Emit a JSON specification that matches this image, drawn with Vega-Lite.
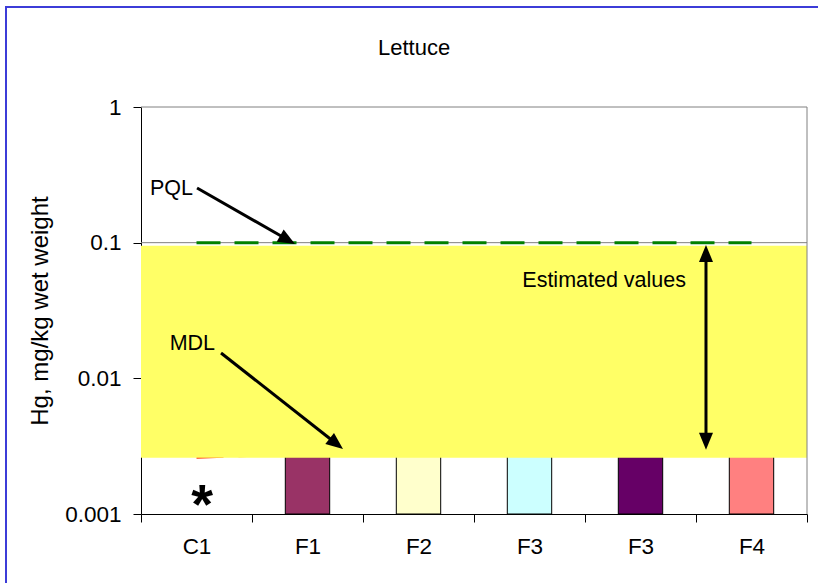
{
  "$schema": "https://vega.github.io/schema/vega-lite/v6.json",
  "width": 852,
  "height": 616,
  "autosize": {"type": "none"},
  "padding": {"left": 6, "top": 7, "right": -40, "bottom": -40},
  "background": "white",
  "config": {
    "font": "Liberation Sans",
    "view": {"stroke": "#3c3cd8", "strokeWidth": 2},
    "axis": {
      "labelFont": "Liberation Sans",
      "titleFont": "Liberation Sans",
      "labelColor": "black",
      "titleColor": "black",
      "domainColor": "black",
      "tickColor": "black",
      "labelFontSize": 22.5,
      "titleFontSize": 24,
      "titleFontWeight": "normal",
      "grid": false
    }
  },
  "title": {
    "text": "Lettuce",
    "anchor": "start",
    "frame": "group",
    "dx": 372,
    "offset": -53,
    "font": "Liberation Sans",
    "fontSize": 22,
    "fontWeight": "normal",
    "color": "black"
  },
  "datasets": {
    "samples": [
      {"key": "C1", "value": null, "pql": 0.1, "mdl": 0.00262},
      {"key": "F1", "value": 0.004, "pql": 0.1, "mdl": 0.0028},
      {"key": "F2", "value": 0.004, "pql": 0.1, "mdl": 0.0028},
      {"key": "F3 (1)", "value": 0.004, "pql": 0.1, "mdl": 0.0028},
      {"key": "F3 (2)", "value": 0.004, "pql": 0.1, "mdl": 0.0028},
      {"key": "F4", "value": 0.004, "pql": 0.1, "mdl": 0.0028}
    ],
    "arrows": [
      {"name": "PQL", "from_u": 0.505, "from_v": 0.253, "to_u": 1.309, "to_v": 0.1064},
      {"name": "MDL", "from_u": 0.721, "from_v": 0.01538, "to_u": 1.749, "to_v": 0.00335},
      {"name": "Estimated values", "from_u": 5.09, "from_v": 0.0811, "to_u": 5.09, "to_v": 0.00351}
    ],
    "labels": [
      {"text": "PQL", "u": 0.468, "v": 0.2244},
      {"text": "MDL", "u": 0.667, "v": 0.01618},
      {"text": "Estimated values", "u": 4.91, "v": 0.0471}
    ]
  },
  "resolve": {"scale": {"x": "independent"}, "axis": {"x": "independent", "y": "independent"}},
  "layer": [
    {
      "data": {"name": "samples"},
      "mark": {"type": "bar", "width": {"band": 0.4}, "stroke": "black", "strokeWidth": 1},
      "encoding": {
        "x": {
          "field": "key", "type": "nominal", "sort": null,
          "scale": {"domain": ["C1", "F1", "F2", "F3 (1)", "F3 (2)", "F4"], "range": [135, 801], "paddingInner": 0, "paddingOuter": 0},
          "axis": {"title": null, "orient": "bottom", "offset": -109, "tickBand": "extent", "labelExpr": "split(datum.label, ' ')[0]", "labelAngle": 0, "tickSize": 8, "labelPadding": 13}
        },
        "y": {
          "field": "value", "type": "quantitative",
          "scale": {"type": "log", "domain": [0.001, 1], "range": [507, 100], "nice": false},
          "axis": {"title": "Hg, mg/kg wet weight", "offset": -135, "values": [0.001, 0.01, 0.1, 1], "format": "~g", "tickSize": 8, "labelPadding": 12, "titlePadding": 12}
        },
        "y2": {"datum": 0.001},
        "color": {
          "field": "key", "type": "nominal",
          "scale": {"domain": ["C1", "F1", "F2", "F3 (1)", "F3 (2)", "F4"], "range": ["#ffffff", "#993366", "#ffffcc", "#ccffff", "#660066", "#ff8080"]},
          "legend": null
        }
      }
    },
    {
      "data": {"name": "samples"},
      "mark": {"type": "line", "color": "#ff3300", "strokeWidth": 3, "strokeDash": [27, 15]},
      "encoding": {
        "x": {
          "field": "key", "type": "nominal", "sort": null,
          "scale": {"domain": ["C1", "F1", "F2", "F3 (1)", "F3 (2)", "F4"], "range": [135, 801], "paddingInner": 0, "paddingOuter": 0},
          "axis": null
        },
        "y": {"field": "mdl", "type": "quantitative", "axis": null}
      }
    },
    {
      "data": {"values": [{}]},
      "layer": [
        {
          "mark": {"type": "rect", "color": "#ffff66"},
          "encoding": {
            "x": {"datum": 0, "type": "quantitative", "scale": {"domain": [0, 6], "range": [135, 801], "nice": false, "zero": false}, "axis": null},
            "x2": {"datum": 6},
            "y": {"datum": 0.0026, "type": "quantitative", "axis": null},
            "y2": {"datum": 0.095}
          }
        },
        {
          "mark": {"type": "rule", "color": "#808080", "strokeWidth": 1},
          "encoding": {
            "x": {"datum": 0, "type": "quantitative", "scale": {"domain": [0, 6], "range": [135, 801], "nice": false, "zero": false}, "axis": null},
            "x2": {"datum": 6},
            "y": {"datum": 0.1, "type": "quantitative", "axis": null}
          }
        },
        {
          "mark": {"type": "rule", "color": "#808080", "strokeWidth": 1},
          "encoding": {
            "x": {"datum": 0, "type": "quantitative", "scale": {"domain": [0, 6], "range": [135, 801], "nice": false, "zero": false}, "axis": null},
            "x2": {"datum": 6},
            "y": {"datum": 1, "type": "quantitative", "axis": null}
          }
        },
        {
          "mark": {"type": "rule", "color": "#808080", "strokeWidth": 1},
          "encoding": {
            "x": {"datum": 6, "type": "quantitative", "scale": {"domain": [0, 6], "range": [135, 801], "nice": false, "zero": false}, "axis": null},
            "y": {"datum": 0.001, "type": "quantitative", "axis": null},
            "y2": {"datum": 1}
          }
        }
      ]
    },
    {
      "data": {"name": "samples"},
      "mark": {"type": "line", "color": "#008000", "strokeWidth": 3, "strokeDash": [24, 14]},
      "encoding": {
        "x": {
          "field": "key", "type": "nominal", "sort": null,
          "scale": {"domain": ["C1", "F1", "F2", "F3 (1)", "F3 (2)", "F4"], "range": [135, 801], "paddingInner": 0, "paddingOuter": 0},
          "axis": null
        },
        "y": {"field": "pql", "type": "quantitative", "axis": null}
      }
    },
    {
      "layer": [
        {
          "data": {"name": "arrows"},
          "mark": {"type": "rule", "color": "black", "strokeWidth": 3},
          "encoding": {
            "x": {"field": "from_u", "type": "quantitative", "scale": {"domain": [0, 6], "range": [135, 801], "nice": false, "zero": false}, "axis": null},
            "x2": {"field": "to_u"},
            "y": {"field": "from_v", "type": "quantitative", "axis": null},
            "y2": {"field": "to_v"}
          }
        },
        {
          "data": {"values": [{}]},
          "mark": {"type": "point", "shape": "M0,0L-0.7,1.7L0.7,1.7Z", "filled": true, "color": "black", "opacity": 1, "size": 400, "angle": 119.7},
          "encoding": {
            "x": {"datum": 1.387, "type": "quantitative", "scale": {"domain": [0, 6], "range": [135, 801], "nice": false, "zero": false}, "axis": null},
            "y": {"datum": 0.0977, "type": "quantitative", "axis": null}
          }
        },
        {
          "data": {"values": [{}]},
          "mark": {"type": "point", "shape": "M0,0L-0.7,1.7L0.7,1.7Z", "filled": true, "color": "black", "opacity": 1, "size": 400, "angle": 128.2},
          "encoding": {
            "x": {"datum": 1.82, "type": "quantitative", "scale": {"domain": [0, 6], "range": [135, 801], "nice": false, "zero": false}, "axis": null},
            "y": {"datum": 0.00301, "type": "quantitative", "axis": null}
          }
        },
        {
          "data": {"values": [{}]},
          "mark": {"type": "point", "shape": "M0,0L-0.7,1.7L0.7,1.7Z", "filled": true, "color": "black", "opacity": 1, "size": 400, "angle": 0},
          "encoding": {
            "x": {"datum": 5.09, "type": "quantitative", "scale": {"domain": [0, 6], "range": [135, 801], "nice": false, "zero": false}, "axis": null},
            "y": {"datum": 0.0962, "type": "quantitative", "axis": null}
          }
        },
        {
          "data": {"values": [{}]},
          "mark": {"type": "point", "shape": "M0,0L-0.7,1.7L0.7,1.7Z", "filled": true, "color": "black", "opacity": 1, "size": 400, "angle": 180},
          "encoding": {
            "x": {"datum": 5.09, "type": "quantitative", "scale": {"domain": [0, 6], "range": [135, 801], "nice": false, "zero": false}, "axis": null},
            "y": {"datum": 0.00297, "type": "quantitative", "axis": null}
          }
        },
        {
          "data": {"name": "labels"},
          "mark": {"type": "text", "align": "right", "baseline": "alphabetic", "fontSize": 21.5, "color": "black", "font": "Liberation Sans"},
          "encoding": {
            "x": {"field": "u", "type": "quantitative", "scale": {"domain": [0, 6], "range": [135, 801], "nice": false, "zero": false}, "axis": null},
            "y": {"field": "v", "type": "quantitative", "axis": null},
            "text": {"field": "text"}
          }
        },
        {
          "data": {"values": [{}]},
          "mark": {"type": "text", "text": "*", "align": "center", "baseline": "alphabetic", "fontSize": 56, "fontWeight": "bold", "color": "black", "font": "Liberation Sans", "dy": 9},
          "encoding": {
            "x": {"datum": 0.55, "type": "quantitative", "scale": {"domain": [0, 6], "range": [135, 801], "nice": false, "zero": false}, "axis": null},
            "y": {"datum": 0.001, "type": "quantitative", "axis": null}
          }
        }
      ]
    }
  ]
}
